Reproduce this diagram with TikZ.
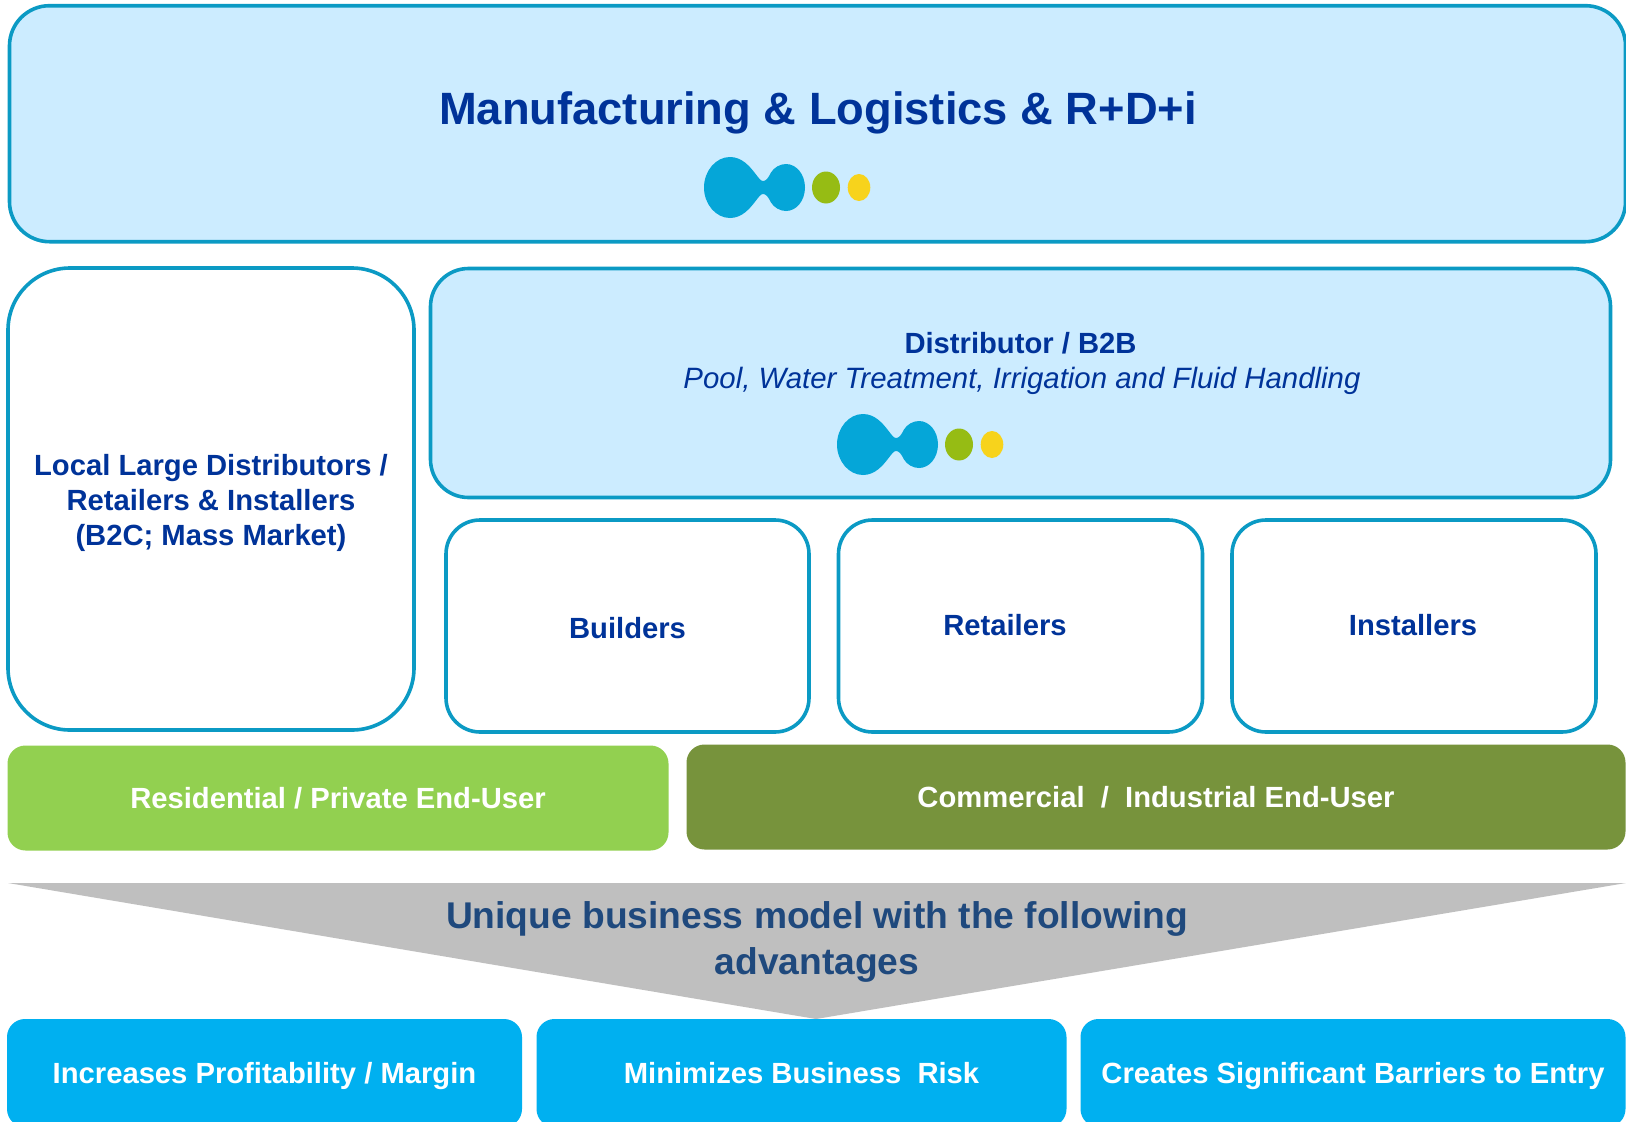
\documentclass[tikz,border=0pt]{standalone}
\usepackage{fontspec}
\usepackage{xcolor}
\usetikzlibrary{positioning}
\setmainfont{Liberation Sans}
\definecolor{boxline}{HTML}{0B9AC4}
\definecolor{boxfill}{HTML}{CCECFF}
\definecolor{titleblue}{HTML}{003399}
\definecolor{modelblue}{HTML}{1F497D}
\definecolor{resgreen}{HTML}{92D050}
\definecolor{comgreen}{HTML}{77933C}
\definecolor{advblue}{HTML}{00B0F0}
\definecolor{wedgegrey}{HTML}{BFBFBF}
\definecolor{logoblue}{HTML}{05A6D8}
\definecolor{logogreen}{HTML}{96BC14}
\definecolor{logoyellow}{HTML}{F7D31C}
\tikzset{
    outlinebox/.style={draw=boxline, line width=3.6pt, rounded corners=#1, inner sep=0pt, align=center},
    palebox/.style={outlinebox=#1, fill=boxfill},
    label/.style={text=titleblue, align=center, font=\fontsize{29.2}{35}\selectfont\bfseries},
    bandbox/.style={rounded corners=18pt, inner sep=0pt, minimum height=105pt, text=white,
        font=\fontsize{29.2}{35}\selectfont\bfseries},
    advbox/.style={bandbox, fill=advblue, minimum height=108pt, text depth=0pt},
    logo/.pic={
        \fill[logoblue] (-33,0)
            .. controls (-33,-16.5) and (-21.3,-30.5) .. (-7,-30.5)
            .. controls (5,-30.5) and (13,-21) .. (19,-13)
            .. controls (22,-9) and (24,-6.5) .. (26,-6.5)
            .. controls (29,-6.5) and (31,-9) .. (34,-15)
            .. controls (37,-20) and (43,-23.5) .. (49,-23.5)
            .. controls (59.5,-23.5) and (68,-13) .. (68,0)
            .. controls (68,13) and (59.5,23.5) .. (49,23.5)
            .. controls (43,23.5) and (37,20) .. (34,15)
            .. controls (31,9) and (29,6.5) .. (26,6.5)
            .. controls (24,6.5) and (22,9) .. (19,13)
            .. controls (13,21) and (5,30.5) .. (-7,30.5)
            .. controls (-21.3,30.5) and (-33,16.5) .. (-33,0) -- cycle;
        \fill[logogreen] (89,0) ellipse [x radius=14, y radius=16];
        \fill[logoyellow] (122,0) ellipse [x radius=11.3, y radius=13.5];
    }
}

\begin{document}
\begin{tikzpicture}[x=1pt, y=-1pt]
    \useasboundingbox (0,0) rectangle (1626,1122);
    \fill[white] (0,0) rectangle (1626,1122);

    \node[palebox=40pt, minimum width=1616pt, minimum height=236pt] (manufacturing) at (817.5,123.7) {};
    \node[label, font=\fontsize{45.3}{56}\selectfont\bfseries] (manufacturingtext) at (818,113) {Manufacturing \& Logistics \& R+D+i};
    \pic at (737,187.5) {logo};

    \node[outlinebox=62pt, minimum width=406pt, minimum height=462pt, label] (local) at (211,499) {};
    \node[label] (localtext) at (211,503)
        {Local Large Distributors /\\Retailers \& Installers\\(B2C; Mass Market)};

    \node[palebox=38pt, minimum width=1180pt, minimum height=229pt] (distributor) at (1020.5,383) {};
    \node[label] (distributortext) at (1020.5,343) {Distributor / B2B};
    \node[label, font=\fontsize{29.4}{35}\selectfont\itshape] (distributorsub) at (1022,381)
        {Pool, Water Treatment, Irrigation and Fluid Handling};
    \pic at (870,444.5) {logo};

    \node[outlinebox=34pt, minimum width=363pt, minimum height=212pt] (builders) at (627.5,626) {};
    \node[label] (builderstext) at (627.5,628) {Builders};
    \node[outlinebox=34pt, minimum width=364pt, minimum height=212pt] (retailers) at (1020.5,626) {};
    \node[label] (retailerstext) at (1005,625) {Retailers};
    \node[outlinebox=34pt, minimum width=364pt, minimum height=212pt] (installers) at (1414,626) {};
    \node[label] (installerstext) at (1413,625) {Installers};

    \node[bandbox, fill=resgreen, minimum width=661pt] (residential) at (338,798) {Residential / Private End-User};
    \node[bandbox, fill=comgreen, minimum width=939pt] (commercial) at (1156,797) {Commercial~~/~~Industrial End-User};

    \fill[wedgegrey] (8,883) -- (1626,883) -- (816,1019) -- cycle;
    \node[font=\fontsize{37.2}{46}\selectfont\bfseries, text=modelblue, align=center] (model) at (817,942)
        {Unique business model with the following\\advantages};

    \node[advbox, minimum width=515pt] (profit) at (264.5,1073) {Increases Profitability / Margin};
    \node[advbox, minimum width=530pt] (risk) at (801.5,1073) {Minimizes Business~~Risk};
    \node[advbox, minimum width=545pt] (barriers) at (1353,1073) {Creates Significant Barriers to Entry};
\end{tikzpicture}
\end{document}
